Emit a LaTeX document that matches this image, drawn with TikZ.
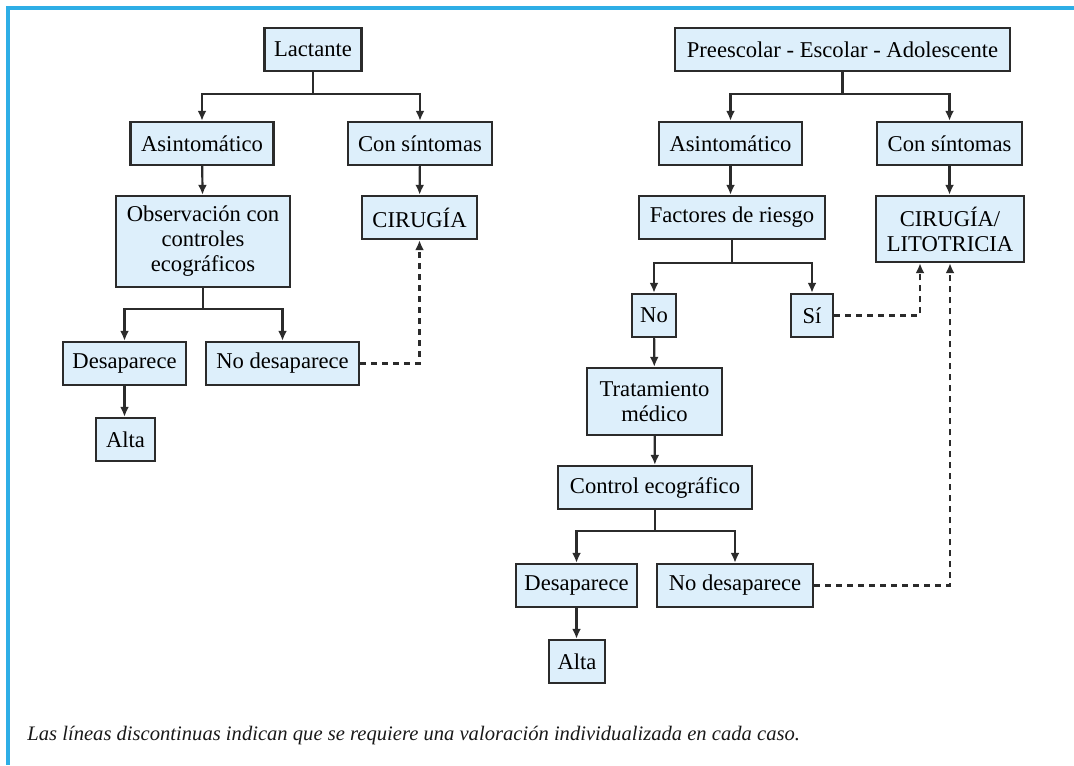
\documentclass[tikz,border=0pt]{standalone}
\usepackage{fontspec}
\setmainfont{Liberation Serif}
\usetikzlibrary{arrows.meta,calc}
\definecolor{boxfill}{HTML}{DDEFFB}
\definecolor{boxline}{HTML}{2B2B2B}
\definecolor{framecol}{HTML}{2EAEE6}
\begin{document}
\begin{tikzpicture}[x=0.5pt,y=-0.5pt,
  box/.style={draw=boxline,fill=boxfill,line width=1.2pt,inner sep=0pt,align=center,
     minimum height=21.5pt,font=\fontsize{11.3}{12.5}\selectfont,text=black},
  conn/.style={draw=boxline,line width=1.1pt,-{Latex[length=5pt,width=4.5pt]}},
  plain/.style={draw=boxline,line width=1.1pt},
  dconn/.style={draw=boxline,line width=1.1pt,dash pattern=on 3pt off 2.5pt,-{Latex[length=5pt,width=4.5pt]}}]
\useasboundingbox (0,0) rectangle (1074,765);
\draw[framecol,line width=1.6pt] (1074,8) -- (8,8) -- (8,765);
% left tree
\node[box,minimum width=48.5pt] (lac) at (313,49.5) {Lactante};
\node[box,minimum width=71.5pt] (asL) at (202,143.5) {Asintomático};
\node[box,minimum width=72pt] (csL) at (420,143.5) {Con síntomas};
\node[box,minimum width=87pt,minimum height=45.5pt] (obs) at (203,241.5) {Observación con\\controles\\ecográficos};
\node[box,minimum width=57.5pt] (cir) at (419.5,217.5) {CIRUGÍA};
\node[box,minimum width=61.5pt] (deL) at (124.5,363.5) {Desaparece};
\node[box,minimum width=76.5pt] (ndL) at (282.5,363.5) {No desaparece};
\node[box,minimum width=29.5pt] (alL) at (125.5,439.5) {Alta};
% right tree
\node[box,minimum width=167.5pt] (pre) at (842.5,49.5) {Preescolar - Escolar - Adolescente};
\node[box,minimum width=71.5pt] (asR) at (730.5,143.5) {Asintomático};
\node[box,minimum width=72.5pt] (csR) at (949.5,143.5) {Con síntomas};
\node[box,minimum width=93pt] (fac) at (732,217.5) {Factores de riesgo};
\node[box,minimum width=74pt,minimum height=33pt] (cl) at (950,229) {CIRUGÍA/\\LITOTRICIA};
\node[box,minimum width=22pt] (no) at (654,315.5) {No};
\node[box,minimum width=21pt] (si) at (812,315.5) {Sí};
\node[box,minimum width=67.5pt,minimum height=33.5pt] (tra) at (654.5,401.5) {Tratamiento\\médico};
\node[box,minimum width=97pt] (con) at (655,487.5) {Control ecográfico};
\node[box,minimum width=60.5pt] (deR) at (576.5,585.5) {Desaparece};
\node[box,minimum width=78pt] (ndR) at (735,585.5) {No desaparece};
\node[box,minimum width=28pt] (alR) at (577,661.5) {Alta};
% caption
\node[anchor=west,inner sep=0pt,font=\fontsize{10.3}{12}\selectfont\itshape,text=black!90] (cap) at (27,736)
  {Las líneas discontinuas indican que se requiere una valoración individualizada en cada caso.};
% connectors left
\coordinate (j1) at ($(lac.south)+(0,22)$);
\draw[plain] (lac.south) -- (j1);
\draw[conn] (j1) -| (asL.north);
\draw[conn] (j1) -| (csL.north);
\draw[conn] (asL) -- (obs);
\draw[conn] (csL) -- (cir);
\coordinate (j2) at ($(obs.south)+(0,21)$);
\draw[plain] (obs.south) -- (j2);
\draw[conn] (j2) -| (deL.north);
\draw[conn] (j2) -| (ndL.north);
\draw[conn] (deL) -- (alL.north -| deL.south);
\draw[dconn] (ndL.east) -| (cir.south);
% connectors right
\coordinate (j3) at ($(pre.south)+(0,22)$);
\draw[plain] (pre.south) -- (j3);
\draw[conn] (j3) -| (asR.north);
\draw[conn] (j3) -| (csR.north);
\draw[conn] (asR) -- (asR.south |- fac.north);
\draw[conn] (csR) -- (csR.south |- cl.north);
\coordinate (j4) at ($(fac.south)+(0,23)$);
\draw[plain] (fac.south) -- (j4);
\draw[conn] (j4) -| (no.north);
\draw[conn] (j4) -| (si.north);
\draw[conn] (no) -- (tra);
\draw[conn] (tra) -- (con);
\coordinate (j5) at ($(con.south)+(0,21)$);
\draw[plain] (con.south) -- (j5);
\draw[conn] (j5) -| (deR.north);
\draw[conn] (j5) -| (ndR.north);
\draw[conn] (deR) -- (deR.south |- alR.north);
\draw[dconn] (si.east) -| ([xshift=-15pt]cl.south);
\draw[dconn] (ndR.east) -| (cl.south);
\end{tikzpicture}
\end{document}
